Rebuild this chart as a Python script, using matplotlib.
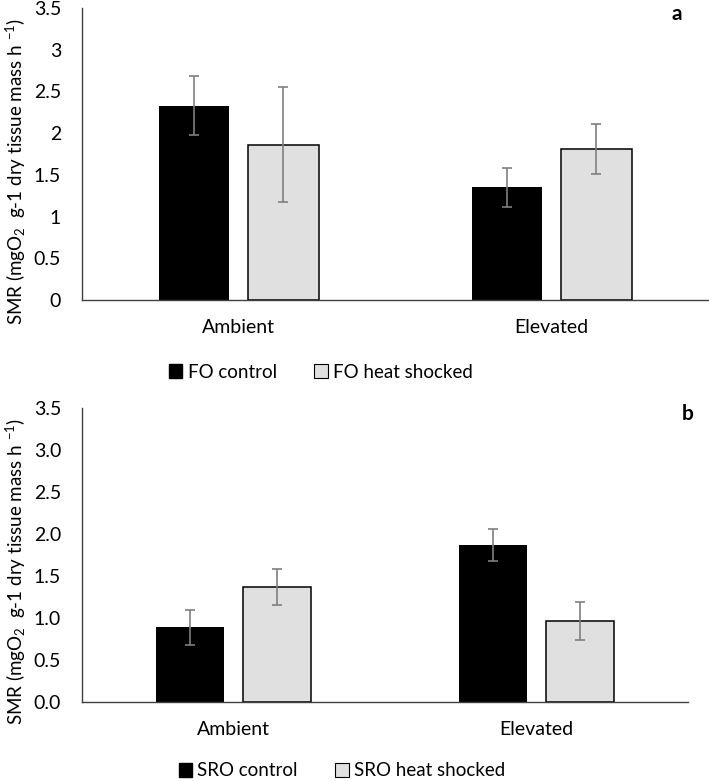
import numpy as np
import matplotlib
matplotlib.use("Agg")
import matplotlib.pyplot as plt
from matplotlib.patches import Patch
from matplotlib.ticker import FormatStrFormatter

plt.rcParams['font.family'] = ['Lato', 'DejaVu Sans']
plt.rcParams['mathtext.fontset'] = 'custom'
plt.rcParams['mathtext.rm'] = 'Lato'
plt.rcParams['mathtext.it'] = 'Lato'
plt.rcParams['mathtext.default'] = 'regular'

# data
categories = ["Ambient", "Elevated"]

fo_control = [2.33, 1.35]
fo_control_err = [0.35, 0.23]
fo_heat = [1.86, 1.81]
fo_heat_err = [0.69, 0.295]

sro_control = [0.89, 1.87]
sro_control_err = [0.21, 0.19]
sro_heat = [1.37, 0.965]
sro_heat_err = [0.21, 0.225]

yticks = [0, 0.5, 1, 1.5, 2, 2.5, 3, 3.5]

ylabel = r'SMR (mgO$_2$  g-1 dry tissue mass h $^{-1}$)'

FS = 14
W, H = 709, 781

fig = plt.figure(figsize=(7.09, 7.81), dpi=100)
ax_a = fig.add_axes([0.1157, 0.6159, 0.883, 0.3739])
ax_b = fig.add_axes([0.1157, 0.1012, 0.8547, 0.3764])

x = np.arange(len(categories))
w = 0.225
off = 0.143
err_kw = dict(ecolor='#7f7f7f', elinewidth=1.2, capsize=3.5, capthick=1.2)


def draw(ax, ctrl, ctrl_err, heat, heat_err, fmt, names, legend_xy, ylab_y):
    ax.bar(x - off, ctrl, w, color='black', yerr=ctrl_err, error_kw=err_kw, zorder=2)
    ax.bar(x + off, heat, w, color='#e0e0e0', edgecolor='black', linewidth=1.1,
           yerr=heat_err, error_kw=err_kw, zorder=2)
    ax.set_xlim(-0.5, 1.5)
    ax.set_ylim(0, 3.5)
    ax.set_yticks(yticks)
    ax.yaxis.set_major_formatter(FormatStrFormatter(fmt) if fmt else
                                 plt.FuncFormatter(lambda v, p: f"{v:g}"))
    ax.set_xticks(x)
    ax.set_xticklabels(categories)
    ax.tick_params(axis='y', length=0, pad=15, labelsize=FS)
    ax.tick_params(axis='x', length=0, pad=14, labelsize=FS)
    for s in ['top', 'right']:
        ax.spines[s].set_visible(False)
    ax.spines['left'].set_color('#404040')
    ax.spines['bottom'].set_color('#404040')
    ax.spines['left'].set_linewidth(1.0)
    ax.spines['bottom'].set_linewidth(1.0)
    fig.text(16 / W, 1 - ylab_y / H, ylabel, fontsize=13.5, rotation=90,
             ha='center', va='center')
    handles = [Patch(facecolor='black', edgecolor='black'),
               Patch(facecolor='#e0e0e0', edgecolor='black', linewidth=0.8)]
    fig.legend(handles, names, loc='center', bbox_to_anchor=legend_xy,
               ncol=2, frameon=False, fontsize=13.5, handlelength=0.7,
               handleheight=0.7, handletextpad=0.3, columnspacing=2.0)
    return ax


draw(ax_a, fo_control, fo_control_err, fo_heat, fo_heat_err, None,
     ['FO control', 'FO heat shocked'], (321 / W, 1 - 372 / H), 171)
draw(ax_b, sro_control, sro_control_err, sro_heat, sro_heat_err, '%.1f',
     ['SRO control', 'SRO heat shocked'], (342 / W, 1 - 771 / H), 571)

fig.text(677 / W, 1 - 14 / H, 'a', fontsize=15, fontweight='bold',
         ha='center', va='center')
fig.text(688 / W, 1 - 414 / H, 'b', fontsize=15, fontweight='bold',
         ha='center', va='center')

fig.savefig('out.png', dpi=100)
